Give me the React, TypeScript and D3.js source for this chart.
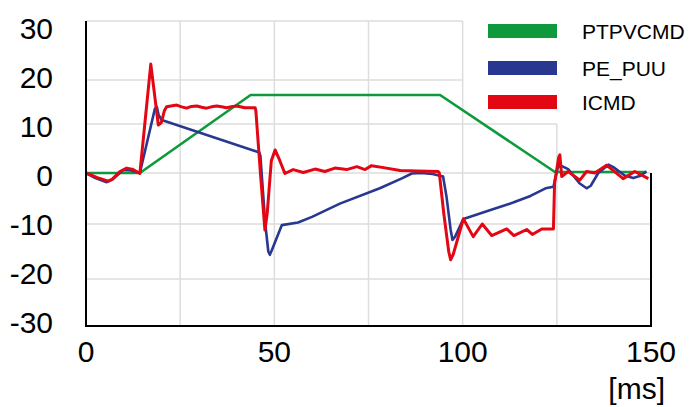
import React from "react";
import * as d3 from "d3";

const xTicks = [0, 50, 100, 150];
const yTicks = [-30, -20, -10, 0, 10, 20, 30];
const xGrid = [25, 50, 75, 100, 125];
const xGridTop = [30, 30, 30, 30, 10];
const yGrid = [-20, -10, 0, 10, 20, 30];
const yGridRight = [150, 150, 150, 125, 100, 100];
const seriesNames = ["PTPVCMD", "PE_PUU", "ICMD"];
const seriesColors = ["#0e9a3c", "#283891", "#e30613"];

const ptpvcmd: [number, number][] = [
  [0, 0], [14.3, 0], [43.7, 16.6], [94.0, 16.6], [124.5, 0.2], [148.8, 0.2],
];

const pePuu: [number, number][] = [
  [0, 0], [2.5, -1.0], [5.5, -1.8], [7, -1.3], [9.9, 0.6], [12, 0.5], [14.3, 0],
  [18.3, 13.5], [18.8, 13.9], [19.3, 12.0], [20.1, 10.9], [46.0, 4.2], [46.3, 3.5],
  [47.6, -10], [48.4, -15], [48.8, -15.6], [49.3, -14.8], [52.0, -10.2], [56.3, -9.7],
  [60, -8.6], [67.4, -6.0], [78, -3.0], [84, -1.0], [86.5, -0.1], [89, 0], [92, -0.2],
  [94.8, -0.7], [95.7, -4.6], [96.8, -11], [97.3, -12.9], [98, -12.3], [100.2, -9.0],
  [107.2, -7.3], [113.4, -5.8], [118, -4.5], [122, -3.0], [124.1, -2.7], [125.2, 1.0],
  [125.8, 1.6], [128, 0.8], [131, -2.0], [132.9, -3.0], [134, -2.5], [136, 0],
  [138.7, 1.7], [140, 1.2], [143, -0.5], [145.3, -1.0], [147, -0.6], [148.8, 0.3],
];

const icmd: [number, number][] = [
  [0, 0], [3, -0.9], [5.9, -1.6], [7, -1.2], [9, 0.3], [10.8, 1.0], [12.5, 0.7],
  [14.3, -0.1], [17.2, 22.7], [19.2, 9.8], [20.0, 10.3], [20.8, 13.0], [21.4, 13.9],
  [24.1, 14.3], [25.4, 13.9], [26.7, 13.6], [28, 14.0], [29.4, 14.1], [30.7, 13.8],
  [32.0, 13.6], [33.3, 13.9], [34.7, 14.1], [36, 13.9], [37.3, 13.7], [38.6, 13.9],
  [40.0, 14.1], [42.2, 13.7], [44.9, 13.7], [45.1, 13.0], [46.3, 0], [47.5, -11.1],
  [48.1, -8], [49.2, 2.5], [50.2, 4.7], [51.2, 3], [52.8, -0.1], [55.0, 0.7],
  [57.7, 0.1], [60.8, 0.8], [63.4, 0.3], [66.1, 1.0], [69.2, 0.7], [71.9, 1.3],
  [74.1, 0.7], [75.8, 1.5], [79, 1.1], [83.4, 0.5], [88, 0.4], [93.5, 0.3],
  [93.8, 0.0], [95, -8], [96.3, -15], [96.8, -16.5], [97.5, -15.5], [100.2, -9.0],
  [102.8, -12.3], [105.2, -10.0], [107.7, -12.1], [111.7, -10.9], [113.6, -12.1],
  [117.0, -11.0], [118.5, -11.9], [121.0, -10.9], [124.1, -10.9], [124.4, -2],
  [125.5, 3.2], [125.8, 3.7], [126.3, -0.7], [128.0, 0.3], [131.1, -1.4],
  [132.9, 0.3], [135.1, 0.0], [138.2, 1.6], [142.6, -1.1], [145.7, 0.3], [149.3, -1.1],
];

const series = [ptpvcmd, pePuu, icmd];

export default function App() {
  const W = 691, H = 407;
  const x = d3.scaleLinear().domain([0, 150]).range([86, 651]);
  const y = d3
    .scaleLinear()
    .domain([-30, -20, -10, 0, 10, 20, 30])
    .range([326, 279, 224, 173, 124, 80, 21]);
  const yLabel = d3.scaleLinear().domain([-30, 30]).range([333, 38.5]);
  const line = d3
    .line<[number, number]>()
    .x((d) => x(d[0]))
    .y((d) => y(d[1]));
  const font = "'Liberation Sans', Arial, Helvetica, sans-serif";

  return (
    <svg
      width={W}
      height={H}
      style={{ position: "absolute", left: 0, top: 0, background: "#fff" }}
      fontFamily={font}
    >
      <g stroke="#dddddd" strokeWidth={1.5}>
        {yGrid.map((v, i) => (
          <line key={"h" + v} x1={x(0)} x2={x(yGridRight[i])} y1={y(v)} y2={y(v)} />
        ))}
        {xGrid.map((v, i) => (
          <line key={"v" + v} x1={x(v)} x2={x(v)} y1={y(xGridTop[i])} y2={y(-30)} />
        ))}
      </g>
      {series.map((s, i) => (
        <path
          key={seriesNames[i]}
          d={line(s) || ""}
          fill="none"
          stroke={seriesColors[i]}
          strokeWidth={i === 2 ? 3 : 2.6}
          strokeLinejoin="round"
        />
      ))}
      <g stroke="#000" strokeWidth={2}>
        <line x1={x(0)} x2={x(0)} y1={y(30)} y2={y(-30) + 1} />
        <line x1={x(0)} x2={x(150) + 1} y1={y(-30)} y2={y(-30)} />
        <line x1={x(150)} x2={x(150)} y1={y(0)} y2={y(-30)} />
      </g>
      <g fontSize={30} fill="#000">
        {yTicks.map((v) => (
          <text key={"yl" + v} x={53} y={yLabel(v)} textAnchor="end">
            {v}
          </text>
        ))}
        {xTicks.map((v) => (
          <text key={"xl" + v} x={x(v)} y={362} textAnchor="middle">
            {v}
          </text>
        ))}
        <text x={665} y={399} textAnchor="end">
          [ms]
        </text>
      </g>
      <g>
        {seriesNames.map((n, i) => {
          const cy = [31, 68, 102][i];
          return (
            <g key={"lg" + n}>
              <rect x={488} y={cy - 7} width={69} height={14} fill={seriesColors[i]} />
              <text x={582} y={cy + 7.5} fontSize={21} fill="#000">
                {n}
              </text>
            </g>
          );
        })}
      </g>
    </svg>
  );
}
